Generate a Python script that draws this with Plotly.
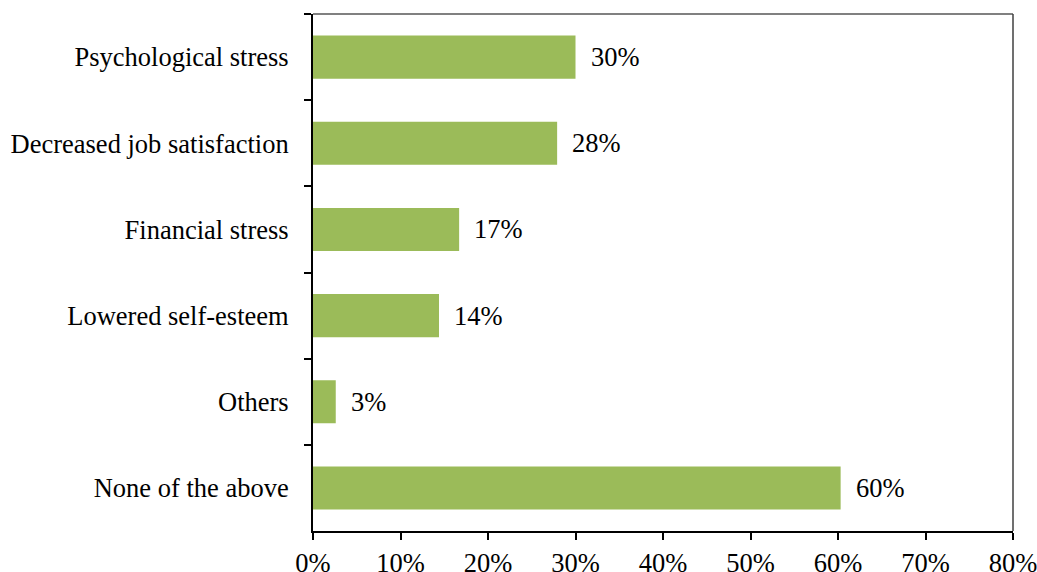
import plotly.graph_objects as go

categories = ["Psychological stress", "Decreased job satisfaction", "Financial stress",
              "Lowered self-esteem", "Others", "None of the above"]
values = [0.300, 0.279, 0.167, 0.144, 0.026, 0.603]
x_ticks = [0, 0.1, 0.2, 0.3, 0.4, 0.5, 0.6, 0.7, 0.8]

FONT = dict(family="Liberation Serif, Times New Roman, serif", size=26.5, color="#000000")

fig = go.Figure()
fig.add_trace(go.Bar(
    x=values, y=categories, orientation="h",
    marker=dict(color="#9BBB59", line=dict(width=0)),
    width=0.5, hoverinfo="x+y",
))

for c, v in zip(categories, values):
    fig.add_annotation(x=v, y=c, text=f"{round(v*100)}%", showarrow=False,
                       xanchor="left", xshift=13, font=FONT)

# top and right frame lines
fig.add_shape(type="line", xref="paper", yref="paper", x0=0, x1=1, y0=1, y1=1,
              line=dict(color="#808080", width=2))
fig.add_shape(type="line", xref="paper", yref="paper", x0=1, x1=1, y0=0, y1=1,
              line=dict(color="#404040", width=1.5))

fig.update_layout(
    width=1037, height=572,
    margin=dict(l=313, r=24, t=14, b=41, autoexpand=False),
    paper_bgcolor="white", plot_bgcolor="white",
    font=FONT, showlegend=False,
    xaxis=dict(range=[0, 0.8], tickvals=x_ticks, tickformat=".0%", automargin=False,
               ticklabeloverflow="allow",
               showgrid=False, zeroline=False, showline=True, linecolor="black",
               linewidth=2, ticks="outside", ticklen=7, tickwidth=2, tickcolor="black",
               tickfont=FONT, ticklabelstandoff=0, fixedrange=True),
    yaxis=dict(autorange="reversed", categoryorder="array", categoryarray=categories,
               automargin=False, ticklabeloverflow="allow",
               showgrid=False, zeroline=False, showline=True, linecolor="black",
               linewidth=2, ticks="outside", ticklen=7, tickwidth=2, tickcolor="black",
               tickson="boundaries", tickfont=FONT, ticklabelstandoff=17, fixedrange=True),
)

fig.write_html("out.html", config={"displayModeBar": False},
               post_script="document.body.style.margin='0';document.body.style.overflow='hidden';")
